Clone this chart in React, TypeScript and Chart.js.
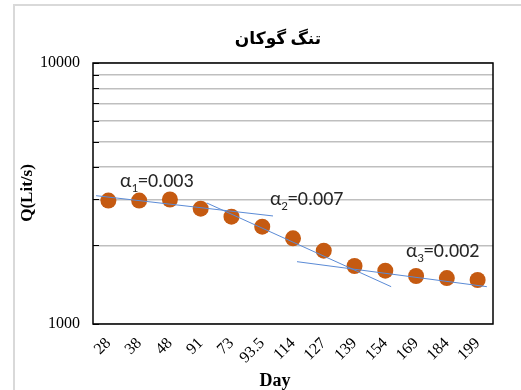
import React, { useEffect, useRef } from "react";
import { Chart, registerables } from "chart.js";

Chart.register(...registerables);

const categories = ["28", "38", "48", "91", "73", "93.5", "114", "127", "139", "154", "169", "184", "199"];
const flowValues = [2970, 2970, 3000, 2765, 2577, 2360, 2130, 1909, 1668, 1601, 1527, 1500, 1474];
const yTickValues = [1000, 2000, 3000, 4000, 5000, 6000, 7000, 8000, 9000, 10000];
const yTickLabels = ["1000", "10000"];

// trend lines, x in category-index units
const trend1 = [{ x: -0.4, y: 3102 }, { x: 5.35, y: 2594 }];
const trend2 = [{ x: 3.2, y: 2908 }, { x: 9.19, y: 1390 }];
const trend3 = [{ x: 6.13, y: 1733 }, { x: 12.3, y: 1390 }];

const annotations = [
  { sub: "1", value: "=0.003", x: 0.38, y: 3350 },
  { sub: "2", value: "=0.007", x: 5.25, y: 2857 },
  { sub: "3", value: "=0.002", x: 9.67, y: 1806 },
];

const titleText = "تنگ گوکان";
const xTitle = "Day";
const yTitle = "Q(Lit/s)";

const serif = "'Times New Roman', 'Liberation Serif', 'DejaVu Serif', 'DejaVu Sans', serif";
const sans = "Carlito, Calibri, 'Liberation Sans', 'DejaVu Sans', sans-serif";

const decorPlugin = {
  id: "decor",
  beforeDraw(chart: any) {
    const ctx = chart.ctx;
    ctx.save();
    ctx.fillStyle = "#ffffff";
    ctx.fillRect(0, 0, chart.width, chart.height);
    ctx.strokeStyle = "#d9d9d9";
    ctx.lineWidth = 2;
    ctx.beginPath();
    ctx.moveTo(14, chart.height);
    ctx.lineTo(14, 5);
    ctx.lineTo(chart.width, 5);
    ctx.stroke();
    ctx.restore();
  },
  afterDatasetsDraw(chart: any) {
    const ctx = chart.ctx;
    const { left, right, top, bottom } = chart.chartArea;
    const ys = chart.scales.y;
    const xt = chart.scales.xt;
    ctx.save();
    // inner tick marks
    ctx.strokeStyle = "#000";
    ctx.lineWidth = 1;
    yTickValues.forEach((v) => {
      const py = Math.round(ys.getPixelForValue(v)) + 0.5;
      ctx.beginPath();
      ctx.moveTo(left, py);
      ctx.lineTo(left + 6, py);
      ctx.stroke();
    });
    // plot border
    ctx.lineWidth = 1.5;
    ctx.strokeRect(left, top, right - left, bottom - top);

    // annotations
    ctx.fillStyle = "#262626";
    ctx.textBaseline = "alphabetic";
    ctx.textAlign = "left";
    annotations.forEach((a) => {
      let px = xt.getPixelForValue(a.x);
      const py = ys.getPixelForValue(a.y);
      ctx.font = `20px ${sans}`;
      ctx.fillText("α", px, py);
      px += ctx.measureText("α").width;
      ctx.font = `13px ${sans}`;
      ctx.fillText(a.sub, px, py + 5);
      px += ctx.measureText(a.sub).width;
      ctx.font = `20px ${sans}`;
      ctx.fillText(a.value, px, py);
    });

    // titles
    ctx.fillStyle = "#000";
    ctx.textAlign = "center";
    ctx.textBaseline = "middle";
    ctx.font = `bold 17px ${serif}`;
    ctx.fillText(titleText, 278, 40);
    ctx.font = `bold 18px ${serif}`;
    ctx.fillText(xTitle, 275, 381);
    ctx.translate(28, 193);
    ctx.rotate(-Math.PI / 2);
    ctx.font = `bold 17px ${serif}`;
    ctx.fillText(yTitle, 0, 0);
    ctx.restore();
  },
};

export default function App() {
  const ref = useRef<HTMLCanvasElement | null>(null);
  useEffect(() => {
    if (!ref.current) return;
    const trendStyle = {
      type: "line" as const,
      xAxisID: "xt",
      borderColor: "#5b8bd6",
      borderWidth: 1,
      pointRadius: 0,
      fill: false,
      order: 0,
    };
    const chart = new Chart(ref.current, {
      type: "line",
      data: {
        labels: categories,
        datasets: [
          {
            label: "Q",
            data: flowValues,
            showLine: false,
            pointRadius: 8,
            pointHoverRadius: 8,
            pointBackgroundColor: "#c55a11",
            pointBorderWidth: 0,
            borderColor: "#c55a11",
            order: 1,
          },
          { ...trendStyle, label: "t1", data: trend1 },
          { ...trendStyle, label: "t2", data: trend2 },
          { ...trendStyle, label: "t3", data: trend3 },
        ] as any,
      },
      options: {
        animation: false,
        responsive: false,
        maintainAspectRatio: false,
        layout: { padding: { left: 0, right: 28, top: 63, bottom: 0 } },
        plugins: { legend: { display: false }, tooltip: { enabled: false }, title: { display: false } },
        scales: {
          x: {
            type: "category",
            offset: true,
            grid: { display: false, drawTicks: false },
            border: { display: false },
            ticks: {
              color: "#000",
              font: { family: serif, size: 16 },
              minRotation: 45,
              maxRotation: 45,
              padding: 10,
              autoSkip: false,
            },
            afterFit(scale: any) {
              scale.height = 66;
            },
          },
          xt: {
            type: "linear",
            display: false,
            min: -0.5,
            max: 12.5,
          },
          y: {
            type: "logarithmic",
            min: 1000,
            max: 10000,
            grid: { color: "#bfbfbf", lineWidth: 1.5, drawTicks: false },
            border: { display: false },
            afterBuildTicks(scale: any) {
              scale.ticks = yTickValues.map((v) => ({ value: v }));
            },
            ticks: {
              color: "#000",
              font: { family: serif, size: 16 },
              padding: 13,
              autoSkip: false,
              callback: (v: any) => (yTickLabels.includes(String(v)) ? String(v) : ""),
            },
            afterFit(scale: any) {
              scale.width = 93;
            },
          },
        },
      } as any,
      plugins: [decorPlugin],
    });
    return () => chart.destroy();
  }, []);
  return (
    <div style={{ position: "fixed", left: 0, top: 0, width: 521, height: 390, background: "#fff" }}>
      <canvas ref={ref} width={521} height={390} style={{ display: "block" }} />
    </div>
  );
}
